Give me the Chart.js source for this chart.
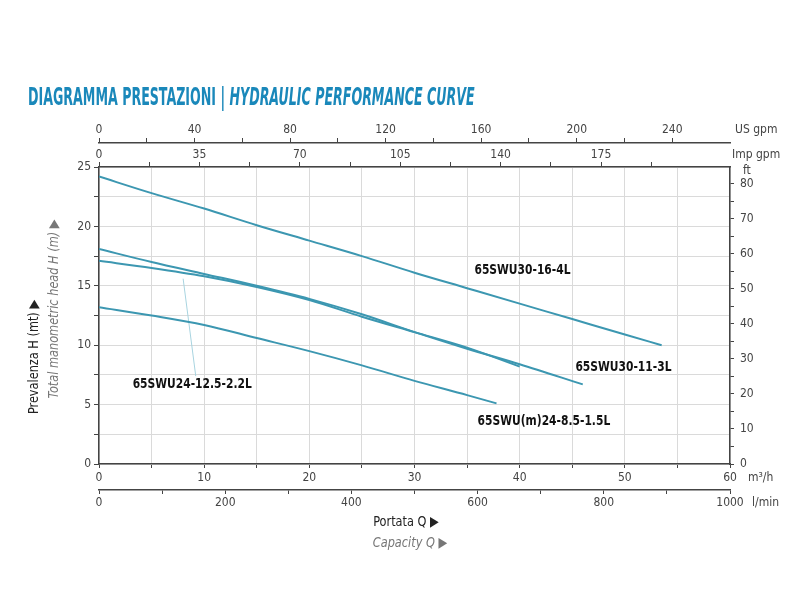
<!DOCTYPE html>
<html>
<head>
<meta charset="utf-8">
<script src="https://cdn.jsdelivr.net/npm/chart.js@4.4.1/dist/chart.umd.min.js"></script>
<style>
    body { margin: 0; background: #fff; }
    #wrap { position: relative; width: 800px; height: 600px; }
    #title {
        position: absolute; left: 28px; top: 83px;
        font-family: "Liberation Sans Narrow", "DejaVu Sans Condensed", Arial, sans-serif;
        font-weight: bold; font-size: 24px; color: #1a88ba;
        white-space: nowrap; transform-origin: 0 0; transform: scaleX(0.585);
    }
    #title i { font-style: italic; }
    canvas { position: absolute; left: 0; top: 0; }
</style>
</head>
<body>
<div id="wrap">
    <canvas id="perfChart" width="800" height="600"></canvas>
    <div id="title">DIAGRAMMA PRESTAZIONI | <i>HYDRAULIC PERFORMANCE CURVE</i></div>
</div>
<script>
// Flow (m3/h) and head (m)
const flow_30_16 = [0, 5, 10, 15, 20, 25, 30, 35, 40, 45, 50, 53.5];
const head_30_16 = [24.2, 22.8, 21.5, 20.1, 18.8, 17.5, 16.1, 14.8, 13.5, 12.2, 10.9, 10.0];

const flow_30_11 = [0, 5, 10, 15, 20, 25, 30, 35, 40, 46];
const head_30_11 = [18.1, 17.0, 16.0, 15.0, 13.9, 12.6, 11.1, 9.7, 8.4, 6.7];

const flow_24_12 = [0, 5, 10, 15, 20, 25, 30, 35, 40];
const head_24_12 = [17.1, 16.5, 15.8, 14.9, 13.8, 12.4, 11.1, 9.8, 8.2];

const flow_24_8 = [0, 5, 10, 15, 20, 25, 30, 35, 37.8];
const head_24_8 = [13.2, 12.5, 11.7, 10.6, 9.5, 8.3, 7.0, 5.8, 5.1];

// leader line from the 65SWU24-12.5-2.2L label up to its curve
const leaderFlow = [8.0, 9.2];
const leaderHead = [15.6, 7.4];

const curveNames = ['65SWU30-16-4L', '65SWU30-11-3L', '65SWU24-12.5-2.2L', '65SWU(m)24-8.5-1.5L'];

// where each curve name sits (m3/h, m)
const labelFlow = [35.7, 45.3, 3.2, 36.0];
const labelHead = [16.3, 8.1, 6.7, 3.6];

// unit conversions used by the extra axes
const M3H_MAX = 60;
const LMIN_MAX = 1000;
const USGPM_MAX = M3H_MAX / 0.227125;
const IMPGPM_MAX = M3H_MAX / 0.272765;
const FT_MAX = 84.7;

const curveColor = '#3c97b1';
const axisColor = '#444';
const gridColor = '#dadada';
const narrow = '"Liberation Sans Narrow", "DejaVu Sans Condensed", Arial, sans-serif';

function toPoints(xs, ys) {
    return xs.map((x, i) => ({ x: x, y: ys[i] }));
}

function isStep(v, step) {
    return Math.abs(v / step - Math.round(v / step)) < 1e-6;
}

// keep only ticks on the step (drops the odd max tick)
function stepTicks(step) {
    return function (scale) {
        scale.ticks = scale.ticks.filter(t => isStep(t.value, step));
    };
}

function labelEvery(step) {
    return function (value) {
        return isStep(value, step) ? Math.round(value) : '';
    };
}

function tickFont() {
    return { family: narrow, size: 12 };
}

// text squeezed horizontally, like the condensed face of the original
function squeezed(ctx, text, x, y, sx) {
    ctx.save();
    ctx.translate(x, y);
    ctx.scale(sx, 1);
    ctx.fillText(text, 0, 0);
    ctx.restore();
}

// Draws curve names, unit labels and axis titles
const textPlugin = {
    id: 'textPlugin',
    afterDraw(chart) {
        const ctx = chart.ctx;
        const xs = chart.scales.x;
        const ys = chart.scales.y;
        ctx.save();

        ctx.fillStyle = '#111';
        ctx.font = 'bold 14px ' + narrow;
        ctx.textAlign = 'left';
        ctx.textBaseline = 'middle';
        curveNames.forEach((name, i) => {
            squeezed(ctx, name, xs.getPixelForValue(labelFlow[i]), ys.getPixelForValue(labelHead[i]), 0.85);
        });

        ctx.fillStyle = axisColor;
        ctx.font = '12px ' + narrow;
        ctx.fillText('US gpm', 735, 130);
        ctx.fillText('Imp gpm', 732, 155);
        ctx.fillText('ft', 743, 171);
        ctx.fillText('m\u00B3/h', 748, 478);
        ctx.fillText('l/min', 752, 503);

        ctx.textAlign = 'center';
        ctx.fillStyle = '#222';
        ctx.font = '14px ' + narrow;
        squeezed(ctx, 'Portata Q \u25B6', 406, 522, 0.9);
        ctx.fillStyle = '#777';
        ctx.font = 'italic 14px ' + narrow;
        squeezed(ctx, 'Capacity Q \u25B6', 410, 543, 0.9);

        ctx.save();
        ctx.translate(34, 357);
        ctx.rotate(-Math.PI / 2);
        ctx.fillStyle = '#222';
        ctx.font = '14px ' + narrow;
        squeezed(ctx, 'Prevalenza H (mt) \u25B6', 0, 0, 0.9);
        ctx.restore();

        ctx.save();
        ctx.translate(54, 309);
        ctx.rotate(-Math.PI / 2);
        ctx.fillStyle = '#777';
        ctx.font = 'italic 14px ' + narrow;
        squeezed(ctx, 'Total manometric head H (m) \u25B6', 0, 0, 0.9);
        ctx.restore();

        ctx.restore();
    }
};

function curve(label, xs, ys) {
    return {
        label: label,
        data: toPoints(xs, ys),
        borderColor: curveColor,
        borderWidth: 2,
        pointRadius: 0,
        cubicInterpolationMode: 'monotone',
        fill: false
    };
}

function initChart() {
    let ctx = document.getElementById('perfChart').getContext('2d');
    new Chart(ctx, {
        type: 'line',
        data: {
            datasets: [
                curve(curveNames[0], flow_30_16, head_30_16),
                curve(curveNames[1], flow_30_11, head_30_11),
                curve(curveNames[2], flow_24_12, head_24_12),
                curve(curveNames[3], flow_24_8, head_24_8),
                {
                    label: 'leader',
                    data: toPoints(leaderFlow, leaderHead),
                    borderColor: '#a8d4e0',
                    borderWidth: 1,
                    pointRadius: 0
                }
            ]
        },
        options: {
            responsive: false,
            animation: false,
            layout: { padding: { left: 59, right: 30, top: 113, bottom: 80 } },
            plugins: {
                legend: { display: false },
                tooltip: { enabled: false }
            },
            scales: {
                x: {
                    type: 'linear', position: 'bottom', weight: 0,
                    min: 0, max: M3H_MAX,
                    grid: { color: gridColor, tickColor: axisColor, tickLength: 4 },
                    border: { color: axisColor, width: 1.5 },
                    ticks: { stepSize: 5, autoSkip: false, maxRotation: 0, padding: 3,
                        color: axisColor, font: tickFont(), callback: labelEvery(10) },
                    afterFit(s) { s.height = 26; }
                },
                x2: {
                    type: 'linear', position: 'bottom', weight: 1,
                    min: 0, max: LMIN_MAX,
                    grid: { drawOnChartArea: false, tickColor: axisColor, tickLength: 4 },
                    border: { color: axisColor, width: 1.5 },
                    ticks: { stepSize: 100, autoSkip: false, maxRotation: 0, padding: 2,
                        color: axisColor, font: tickFont(), callback: labelEvery(200) },
                    afterFit(s) { s.height = 30; }
                },
                x3: {
                    type: 'linear', position: 'top', weight: 0,
                    min: 0, max: IMPGPM_MAX,
                    grid: { drawOnChartArea: false, tickColor: axisColor, tickLength: 5 },
                    border: { color: axisColor, width: 1.5 },
                    afterBuildTicks: stepTicks(17.5),
                    ticks: { stepSize: 17.5, autoSkip: false, maxRotation: 0, padding: 0,
                        color: axisColor, font: tickFont(), callback: labelEvery(35) },
                    afterFit(s) { s.height = 24; }
                },
                x4: {
                    type: 'linear', position: 'top', weight: 1,
                    min: 0, max: USGPM_MAX,
                    grid: { drawOnChartArea: false, tickColor: axisColor, tickLength: 5 },
                    border: { color: axisColor, width: 1.5 },
                    afterBuildTicks: stepTicks(20),
                    ticks: { stepSize: 20, autoSkip: false, maxRotation: 0, padding: 1,
                        color: axisColor, font: tickFont(), callback: labelEvery(40) },
                    afterFit(s) { s.height = 30; }
                },
                y: {
                    type: 'linear', position: 'left',
                    min: 0, max: 25,
                    grid: { color: gridColor, tickColor: axisColor, tickLength: 5 },
                    border: { color: axisColor, width: 1.5 },
                    ticks: { stepSize: 2.5, autoSkip: false, padding: 3,
                        color: axisColor, font: tickFont(), callback: labelEvery(5) },
                    afterFit(s) { s.width = 40; }
                },
                y2: {
                    type: 'linear', position: 'right',
                    min: 0, max: FT_MAX,
                    grid: { drawOnChartArea: false, tickColor: axisColor, tickLength: 4 },
                    border: { color: axisColor, width: 1.5 },
                    afterBuildTicks: stepTicks(5),
                    ticks: { stepSize: 5, autoSkip: false, padding: 6,
                        color: axisColor, font: tickFont(), callback: labelEvery(10) },
                    afterFit(s) { s.width = 40; }
                }
            }
        },
        plugins: [textPlugin]
    });
}

window.onload = initChart;
</script>
</body>
</html>
